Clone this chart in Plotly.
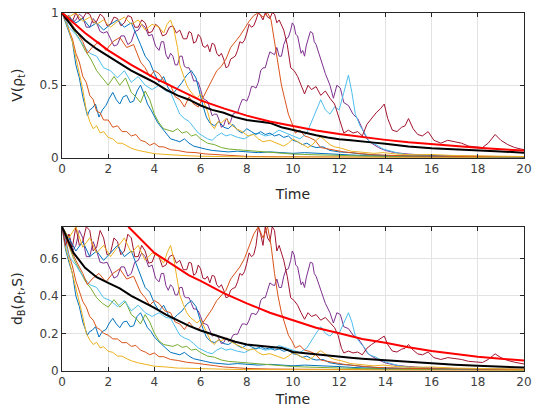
import plotly.graph_objects as go

# ---------------- data ----------------
x_ticks = [0, 2, 4, 6, 8, 10, 12, 14, 16, 18, 20]
v_ticks = [0, 0.5, 1]
v_tick_text = ["0", "0.5", "1"]
d_ticks = [0, 0.2, 0.4, 0.6]
d_tick_text = ["0", "0.2", "0.4", "0.6"]

# trajectory 1 (blue)
t_blue1 = [0, .15, .3, .45, .6, .75, .9, 1.0, 1.1, 1.2, 1.3, 1.45, 1.6, 1.75, 1.9, 2.05, 2.2, 2.35, 2.5, 2.65,
           2.8, 2.95, 3.1, 3.25, 3.4, 3.55, 3.7, 3.85, 4.0, 4.15, 4.3, 4.5, 4.7, 4.9, 5.1, 5.3, 5.5, 5.7, 5.9, 6.2,
           6.5, 6.8, 7.2, 7.6, 8, 8.5, 9, 9.5, 10, 10.5, 11, 11.5, 12, 12.5, 13, 14, 16, 20]
v_blue1 = [1, .93, .87, .8, .64, .55, .42, .35, .29, .33, .34, .37, .28, .33, .36, .41, .45, .4, .37, .42,
           .43, .38, .39, .46, .5, .44, .37, .33, .28, .24, .21, .17, .13, .12, .11, .13, .1, .08, .07, .06,
           .05, .045, .04, .045, .04, .035, .04, .035, .03, .035, .03, .028, .025, .02, .015, .01, .006, .004]
d_blue1 = [.77, .65, .58, .52, .40, .343, .26, .22, .19, .21, .215, .235, .18, .21, .22, .255, .28, .25, .23, .26,
           .265, .235, .24, .29, .31, .27, .23, .21, .18, .16, .145, .12, .098, .091, .085, .098, .078, .064, .057, .05,
           .042, .038, .034, .038, .034, .03, .034, .03, .026, .03, .026, .025, .022, .018, .014, .01, .007, .005]

# trajectory 2 (orange, fast)
t_orange1 = [0, .15, .3, .45, .6, .75, .9, 1.05, 1.2, 1.35, 1.5, 1.65, 1.8, 2.0, 2.2, 2.4, 2.6, 2.8, 3.0, 3.2,
             3.4, 3.6, 3.8, 4.0, 4.2, 4.4, 4.7, 5.0, 5.4, 5.8, 6.2, 6.6, 7.0, 7.5, 8, 9, 10, 12, 15, 20]
v_orange1 = [1, .97, .88, .82, .72, .66, .56, .52, .43, .4, .32, .31, .26, .26, .21, .22, .18, .18, .15, .16,
             .12, .11, .085, .1, .075, .075, .055, .05, .038, .035, .026, .022, .016, .013, .009, .007, .006, .004, .003, .002]
d_orange1 = [.77, .71, .62, .56, .48, .43, .37, .34, .29, .27, .23, .22, .2, .19, .17, .17, .15, .15, .13, .135,
             .11, .1, .085, .095, .075, .075, .06, .055, .045, .04, .032, .027, .02, .016, .012, .009, .008, .006, .004, .003]

# trajectory 3 (yellow, fastest)
t_yellow1 = [0, .15, .3, .45, .6, .75, .9, 1.05, 1.2, 1.35, 1.5, 1.65, 1.8, 2.0, 2.2, 2.4, 2.6, 2.8, 3.0, 3.3,
             3.6, 4.0, 4.5, 5.0, 5.5, 6, 7, 8, 10, 13, 20]
v_yellow1 = [1, .94, .88, .8, .7, .58, .47, .33, .25, .2, .22, .17, .18, .14, .13, .1, .1, .08, .065, .05,
             .04, .028, .022, .015, .013, .01, .007, .005, .004, .003, .002]
d_yellow1 = [.77, .66, .595, .52, .445, .36, .29, .2, .165, .14, .152, .122, .128, .104, .098, .078, .078, .064, .053, .042,
             .034, .024, .02, .014, .013, .01, .008, .006, .005, .004, .003]

# trajectory 4 (purple)
t_purple = [0, .15, .3, .45, .6, .75, .9, 1.05, 1.2, 1.35, 1.5, 1.65, 1.8, 1.95, 2.1, 2.25, 2.4, 2.55, 2.7, 2.85,
            3.0, 3.15, 3.3, 3.45, 3.6, 3.75, 3.9, 4.05, 4.2, 4.3, 4.4, 4.5, 4.6, 4.7, 4.8, 4.9, 5.0, 5.1, 5.2, 5.3,
            5.4, 5.5, 5.6, 5.7, 5.8, 5.9, 6.0, 6.1, 6.2, 6.3, 6.4, 6.5, 6.6, 6.7, 6.8, 6.9, 7.0, 7.08, 7.15, 7.22,
            7.3, 7.4, 7.5, 7.6, 7.7, 7.8, 7.9, 8.0, 8.1, 8.2, 8.3, 8.4, 8.5, 8.6, 8.7, 8.8, 8.9, 9.0, 9.1, 9.2,
            9.3, 9.4, 9.5, 9.6, 9.7, 9.8, 9.9, 9.97, 10.05, 10.12, 10.2, 10.27, 10.35, 10.42, 10.5, 10.57, 10.65, 10.75, 10.85, 10.92,
            11.0, 11.2, 11.4, 11.6, 11.75, 11.9, 12.05, 12.2, 12.4, 12.6, 12.8, 13.0, 13.2, 13.4, 13.7, 14.0, 14.4, 15, 16, 18,
            20]
v_purple = [1, .96, .98, .93, .95, .99, .97, .9, .9, .96, .93, .87, .86, .87, .82, .77, .78, .84, .84, .78,
            .8, .87, .88, .92, .9, .84, .85, .77, .74, .8, .8, .71, .68, .72, .7, .64, .64, .7, .7, .63,
            .62, .62, .58, .53, .53, .52, .47, .41, .4, .39, .34, .29, .3, .3, .26, .21, .22, .26, .27, .23,
            .25, .3, .31, .31, .36, .4, .4, .39, .43, .49, .49, .48, .52, .6, .62, .62, .68, .73, .72, .71,
            .76, .7, .7, .78, .82, .83, .88, .93, .91, .85, .84, .79, .72, .74, .7, .77, .82, .87, .86, .8,
            .78, .68, .58, .5, .41, .5, .48, .38, .36, .3, .27, .2, .13, .1, .07, .05, .035, .025, .015, .01,
            .006]
d_purple = [.77, .69, .73, .64, .67, .75, .71, .61, .61, .69, .64, .58, .575, .58, .54, .495, .505, .555, .555, .505,
            .52, .58, .59, .63, .61, .555, .565, .495, .475, .52, .52, .455, .43, .46, .445, .405, .405, .445, .445, .395,
            .39, .39, .36, .33, .33, .32, .29, .255, .25, .245, .215, .185, .19, .19, .17, .145, .15, .17, .175, .155,
            .165, .19, .195, .195, .225, .25, .25, .245, .27, .305, .305, .3, .32, .375, .39, .39, .43, .47, .46, .455,
            .49, .445, .445, .505, .54, .545, .59, .64, .62, .565, .555, .51, .46, .475, .445, .495, .54, .58, .575, .52,
            .505, .43, .36, .31, .255, .31, .3, .235, .225, .19, .175, .14, .097, .078, .057, .042, .03, .022, .014, .01,
            .007]

# trajectory 5 (green)
t_green = [0, .25, .5, .75, 1.0, 1.25, 1.5, 1.75, 2.0, 2.25, 2.5, 2.75, 3.0, 3.2, 3.4, 3.6, 3.8, 4.0, 4.2, 4.4,
           4.6, 4.8, 5.0, 5.2, 5.4, 5.6, 5.8, 6.0, 6.3, 6.6, 6.9, 7.2, 7.6, 8, 8.5, 9, 9.5, 10, 11, 12, 13, 15, 20]
v_green = [1, .95, .88, .82, .74, .68, .6, .55, .5, .56, .5, .55, .45, .42, .38, .46, .4, .3, .24, .2,
           .19, .18, .2, .17, .18, .15, .16, .13, .1, .09, .07, .06, .055, .05, .045, .035, .03, .025, .02, .015, .012, .008, .004]
d_green = [.77, .68, .6, .54, .48, .44, .39, .36, .34, .38, .34, .37, .3, .28, .25, .3, .26, .2, .16, .14,
           .135, .13, .14, .125, .13, .11, .115, .097, .078, .072, .057, .05, .046, .042, .038, .03, .026, .022, .018, .014, .011, .008, .004]

# trajectory 6 (light blue)
t_lblue = [0, .3, .6, .9, 1.2, 1.5, 1.8, 2.1, 2.4, 2.7, 3.0, 3.3, 3.6, 3.9, 4.2, 4.5, 4.7, 4.9, 5.1, 5.3,
           5.5, 5.7, 5.9, 6.1, 6.3, 6.5, 6.7, 6.9, 7.1, 7.3, 7.6, 7.9, 8.2, 8.5, 8.8, 9.1, 9.4, 9.7, 10.0, 10.3,
           10.6, 10.8, 11.0, 11.2, 11.4, 11.6, 11.8, 12.0, 12.2, 12.4, 12.55, 12.7, 12.9, 13.1, 13.3, 13.6, 13.9, 14.2, 14.6, 15,
           16, 18, 20]
v_lblue = [1, .9, .85, .78, .72, .7, .62, .6, .55, .6, .52, .56, .5, .47, .5, .46, .45, .38, .3, .27,
           .25, .21, .17, .15, .13, .12, .15, .17, .15, .16, .14, .13, .16, .17, .15, .16, .19, .17, .15, .13,
           .17, .25, .33, .4, .33, .3, .35, .33, .45, .57, .45, .3, .22, .17, .11, .09, .06, .045, .03, .02,
           .012, .008, .005]
d_lblue = [.77, .61, .565, .505, .46, .445, .39, .375, .343, .375, .32, .35, .31, .29, .31, .285, .28, .235, .19, .175,
           .165, .145, .122, .11, .097, .091, .11, .122, .11, .116, .104, .097, .116, .122, .11, .116, .134, .122, .11, .097,
           .122, .165, .2, .235, .2, .185, .21, .2, .26, .31, .26, .185, .15, .122, .085, .072, .05, .038, .026, .018,
           .012, .008, .006]

# trajectory 7 (dark red)
t_dred = [0, .15, .3, .45, .6, .75, .9, 1.05, 1.2, 1.35, 1.5, 1.65, 1.8, 1.95, 2.1, 2.25, 2.4, 2.55, 2.7, 2.85,
          3.0, 3.15, 3.3, 3.45, 3.6, 3.75, 3.9, 4.05, 4.2, 4.35, 4.5, 4.65, 4.8, 4.95, 5.1, 5.25, 5.4, 5.5, 5.6, 5.7,
          5.8, 5.9, 6.0, 6.1, 6.2, 6.3, 6.4, 6.5, 6.6, 6.7, 6.8, 6.9, 7.0, 7.1, 7.2, 7.3, 7.4, 7.5, 7.6, 7.7,
          7.8, 7.9, 8.0, 8.1, 8.2, 8.3, 8.4, 8.5, 8.6, 8.7, 8.8, 8.9, 9.0, 9.1, 9.2, 9.3, 9.4, 9.5, 9.6,
          9.75, 9.9, 10.05, 10.2, 10.35, 10.5, 10.65, 10.8, 11.0, 11.2, 11.4, 11.6, 11.8, 11.95, 12.1, 12.2, 12.4, 12.6, 12.8, 13.0,
          13.2, 13.4, 13.6, 13.8, 13.95, 14.1, 14.3, 14.5, 14.7, 14.85, 15.0, 15.2, 15.4, 15.6, 15.85, 16.1, 16.4, 16.7, 17.0, 17.3,
          17.6, 17.9, 18.2, 18.45, 18.75, 19.0, 19.3, 19.6, 20]
v_dred = [1, .95, .98, .94, 1, .95, .96, 1.0, .99, .93, .94, .99, .97, .91, .92, .97, .96, .91, .93, .98,
          .97, .9, .9, .95, .93, .86, .87, .92, .9, .84, .85, .9, .91, .86, .88, .82, .82, .87, .86, .79,
          .8, .85, .83, .77, .76, .78, .73, .79, .78, .72, .7, .72, .68, .62, .63, .68, .69, .7, .74, .8,
          .79, .81, .86, .92, .9, .91, .95, 1.0, .98, .95, 1.0, .97, .96, 1.0, .99, .93, .95, .92, .88,
          .78, .62, .6, .56, .5, .44, .5, .47, .49, .43, .46, .41, .37, .3, .22, .17, .19, .17, .18, .15,
          .23, .27, .31, .34, .37, .27, .19, .18, .21, .22, .27, .2, .16, .15, .18, .12, .1, .12, .11, .1,
          .08, .075, .07, .1, .16, .12, .09, .07, .055]
d_dred = [.77, .67, .73, .66, .77, .67, .69, .77, .75, .64, .66, .75, .71, .62, .63, .71, .69, .62, .64, .73,
          .71, .61, .61, .67, .64, .575, .58, .63, .61, .555, .565, .61, .62, .575, .59, .54, .54, .58, .575, .51,
          .52, .565, .545, .495, .49, .505, .47, .51, .505, .46, .445, .46, .43, .39, .395, .43, .44, .445, .475, .52,
          .51, .53, .575, .63, .61, .62, .67, .77, .73, .67, .77, .71, .69, .77, .75, .64, .67, .63, .59,
          .505, .39, .375, .35, .31, .275, .31, .29, .3, .27, .285, .255, .23, .19, .12, .095, .105, .095, .1, .085,
          .12, .14, .155, .17, .185, .14, .105, .1, .115, .12, .14, .11, .09, .085, .1, .07, .06, .07, .066, .06,
          .05, .047, .044, .06, .09, .07, .055, .045, .036]

# trajectory 8 (blue)
t_blue2 = [0, .3, .6, .9, 1.2, 1.5, 1.8, 2.1, 2.4, 2.7, 3.0, 3.2, 3.4, 3.6, 3.8, 4.0, 4.2, 4.4, 4.6, 4.8,
           5.0, 5.2, 5.4, 5.6, 5.8, 5.95, 6.1, 6.25, 6.4, 6.6, 6.8, 7.0, 7.2, 7.4, 7.6, 7.8, 8.0, 8.2, 8.4, 8.6,
           8.8, 9.0, 9.2, 9.4, 9.6, 9.8, 10.0, 10.2, 10.4, 10.6, 10.8, 11.0, 11.3, 11.6, 12.0, 12.5, 13, 14, 16, 20]
v_blue2 = [1, .97, .93, .96, .9, .93, .88, .92, .95, .9, .93, .86, .78, .7, .66, .58, .52, .56, .48, .44,
           .48, .52, .57, .6, .55, .45, .36, .28, .24, .22, .25, .21, .2, .23, .19, .17, .2, .18, .16, .18,
           .16, .17, .15, .16, .14, .15, .12, .11, .09, .1, .08, .07, .075, .05, .04, .035, .025, .015, .01, .005]
d_blue2 = [.77, .71, .64, .69, .61, .64, .59, .63, .67, .61, .64, .575, .505, .445, .42, .36, .32, .35, .3, .275,
           .3, .32, .355, .375, .343, .28, .225, .18, .16, .15, .165, .145, .14, .155, .134, .122, .14, .128, .116, .128,
           .116, .122, .11, .116, .104, .11, .091, .085, .071, .078, .064, .057, .06, .042, .034, .03, .022, .014, .01, .006]

# trajectory 9 (orange)
t_orange2 = [0, .3, .6, .9, 1.1, 1.3, 1.6, 1.9, 2.2, 2.5, 2.8, 3.1, 3.4, 3.6, 3.8, 4.0, 4.2, 4.45, 4.7, 4.9,
             5.1, 5.3, 5.5, 5.7, 5.9, 6.1, 6.3, 6.5, 6.7, 6.9, 7.1, 7.3, 7.5, 7.7, 7.9, 8.1, 8.3, 8.5, 8.7, 8.9,
             9.05, 9.2, 9.35, 9.5, 9.65, 9.8, 9.95, 10.1, 10.3, 10.5, 10.7, 10.95, 11.2, 11.5, 11.8, 12.2, 12.8, 13.5, 15, 17, 20]
v_orange2 = [1, .95, .88, .8, .72, .76, .8, .74, .8, .83, .76, .78, .66, .62, .56, .6, .58, .52, .5, .42,
             .4, .35, .42, .37, .35, .41, .47, .53, .6, .63, .68, .76, .8, .84, .89, .94, .98, 1, .97, 1,
             .95, .8, .63, .5, .4, .3, .24, .17, .19, .15, .14, .12, .07, .06, .05, .04, .03, .02, .012, .008, .005]
d_orange2 = [.77, .67, .59, .52, .46, .49, .52, .475, .52, .545, .49, .505, .42, .39, .35, .375, .36, .32, .31, .26,
             .25, .22, .26, .23, .22, .255, .29, .33, .375, .4, .43, .49, .52, .555, .6, .66, .73, .77, .71, .77,
             .67, .52, .4, .31, .25, .19, .16, .122, .134, .11, .104, .091, .057, .05, .042, .034, .026, .018, .012, .008, .006]

# trajectory 10 (yellow)
t_yellow2 = [0, .3, .6, .9, 1.2, 1.5, 1.8, 2.1, 2.4, 2.7, 3.0, 3.3, 3.6, 3.9, 4.2, 4.4, 4.55, 4.7, 4.85, 5.0,
             5.1, 5.25, 5.4, 5.55, 5.7, 5.85, 6.0, 6.15, 6.3, 6.45, 6.6, 6.75, 6.9, 7.1, 7.3, 7.55, 7.8, 8.05, 8.3, 8.5,
             8.7, 9.0, 9.3, 9.6, 9.8, 10.0, 10.2, 10.45, 10.65, 10.85, 11.0, 11.2, 11.4, 11.6, 11.8, 12.1, 12.5, 13.0, 13.5, 13.9,
             14.5, 15.2, 16, 17, 18, 19, 20]
v_yellow2 = [1, .97, 1, .94, .97, .92, .95, .9, .94, .97, .92, .95, .88, .92, .9, .86, .92, .95, .88, .76,
             .64, .57, .5, .46, .43, .41, .44, .38, .32, .23, .2, .25, .24, .27, .23, .2, .18, .15, .16, .13,
             .11, .12, .1, .08, .1, .13, .11, .09, .07, .09, .12, .145, .12, .09, .075, .065, .045, .035, .03, .035,
             .025, .02, .022, .015, .012, .01, .008]
d_yellow2 = [.77, .71, .77, .66, .71, .63, .67, .61, .66, .71, .63, .67, .59, .63, .61, .575, .63, .67, .59, .49,
             .405, .355, .31, .285, .27, .255, .275, .235, .2, .155, .14, .165, .16, .175, .155, .14, .128, .11, .116, .097,
             .085, .091, .078, .064, .078, .097, .085, .071, .057, .071, .091, .107, .091, .071, .06, .053, .038, .03, .026, .03,
             .022, .018, .02, .014, .012, .01, .008]

# mean over trajectories (black)
t_mean = [0, .5, 1, 1.5, 2, 2.5, 3, 3.5, 4, 4.5, 5, 5.5, 6, 6.5, 7, 7.5, 8, 8.5, 9, 9.5,
          10, 10.5, 11, 11.5, 12, 12.5, 13, 13.5, 14, 15, 16, 17, 18, 19, 20]
v_mean = [1, .89, .81, .75, .7, .65, .6, .56, .52, .47, .43, .4, .36, .33, .31, .28, .26, .25, .24, .21,
          .19, .17, .155, .14, .127, .12, .11, .104, .097, .078, .065, .056, .05, .043, .035]
d_mean = [.77, .63, .55, .5, .47, .44, .4, .37, .336, .3, .27, .24, .215, .195, .175, .155, .14, .135, .13, .122,
          .1, .093, .087, .08, .074, .069, .064, .06, .055, .045, .037, .032, .026, .022, .017]

# bound (red)
t_bound_v = [0, 1, 2, 3, 4, 5, 6, 7, 8, 9, 10, 11, 12, 13, 14, 15, 16, 17, 18, 19, 20]
v_bound = [1, .86, .74, .64, .55, .47, .395, .34, .29, .25, .218, .188, .163, .142, .123, .106, .092, .079, .068, .058, .05]
t_bound_d = [2.87, 3.5, 4, 4.5, 5, 5.5, 6, 7, 8, 9, 10, 11, 12, 13, 14, 15, 16, 17, 18, 19, 20]
d_bound = [.77, .69, .63, .59, .55, .51, .48, .415, .36, .31, .27, .23, .2, .17, .15, .125, .105, .09, .075, .064, .055]

# ---------------- figure ----------------
COL = {"blue": "#0072BD", "orange": "#D95319", "yellow": "#EDB120", "purple": "#7E2F8E",
       "green": "#77AC30", "lblue": "#4DBEEE", "dred": "#A2142F"}

paths = [
    (t_blue1, v_blue1, d_blue1, COL["blue"]),
    (t_orange1, v_orange1, d_orange1, COL["orange"]),
    (t_yellow1, v_yellow1, d_yellow1, COL["yellow"]),
    (t_purple, v_purple, d_purple, COL["purple"]),
    (t_green, v_green, d_green, COL["green"]),
    (t_lblue, v_lblue, d_lblue, COL["lblue"]),
    (t_dred, v_dred, d_dred, COL["dred"]),
    (t_blue2, v_blue2, d_blue2, COL["blue"]),
    (t_orange2, v_orange2, d_orange2, COL["orange"]),
    (t_yellow2, v_yellow2, d_yellow2, COL["yellow"]),
]

fig = go.Figure()
for t, v, d, c in paths:
    fig.add_trace(go.Scatter(x=t, y=v, mode="lines", line=dict(color=c, width=1.0),
                             xaxis="x", yaxis="y", hoverinfo="skip", showlegend=False))
    fig.add_trace(go.Scatter(x=t, y=d, mode="lines", line=dict(color=c, width=1.0),
                             xaxis="x2", yaxis="y2", hoverinfo="skip", showlegend=False))

fig.add_trace(go.Scatter(x=t_mean, y=v_mean, mode="lines", line=dict(color="black", width=2),
                         xaxis="x", yaxis="y", showlegend=False))
fig.add_trace(go.Scatter(x=t_bound_v, y=v_bound, mode="lines", line=dict(color="#FF0000", width=2),
                         xaxis="x", yaxis="y", showlegend=False))
fig.add_trace(go.Scatter(x=t_mean, y=d_mean, mode="lines", line=dict(color="black", width=2),
                         xaxis="x2", yaxis="y2", showlegend=False))
fig.add_trace(go.Scatter(x=t_bound_d, y=d_bound, mode="lines", line=dict(color="#FF0000", width=2),
                         xaxis="x2", yaxis="y2", showlegend=False))

tick_font = dict(family="DejaVu Sans", size=12, color="#404040")
title_font = dict(family="DejaVu Sans", size=14, color="#262626")
common = dict(showline=True, linecolor="#262626", linewidth=1, mirror="ticks", ticks="inside",
              ticklen=4, tickcolor="#262626", showgrid=True, gridcolor="#e3e3e3", gridwidth=1,
              zeroline=False, tickfont=tick_font, automargin=False, ticklabeloverflow="allow")

# page body margin is removed (post_script), so figure pixels equal page pixels
W, H = 535, 414
xdom = [62 / W, 524 / W]
fig.update_layout(
    width=W, height=H,
    margin=dict(l=0, r=0, t=0, b=0),
    paper_bgcolor="white", plot_bgcolor="white",
    showlegend=False,
    xaxis=dict(domain=xdom, range=[0, 20], tickvals=x_ticks, anchor="y",
               title=dict(text="Time", font=title_font, standoff=14), **common),
    yaxis=dict(domain=[1 - 157.7 / H, 1 - 12.7 / H], range=[0, 1], tickvals=v_ticks,
               ticktext=v_tick_text, anchor="x",
               title=dict(text="V(ρ<sub>t</sub>)", font=title_font, standoff=13), **common),
    xaxis2=dict(domain=xdom, range=[0, 20], tickvals=x_ticks, anchor="y2",
                title=dict(text="Time", font=title_font, standoff=6), **common),
    yaxis2=dict(domain=[1 - 370.7 / H, 1 - 226.7 / H], range=[0, 0.77], tickvals=d_ticks,
                ticktext=d_tick_text, anchor="x2",
                title=dict(text="d<sub>B</sub>(ρ<sub>t</sub>,S)", font=title_font, standoff=13), **common),
)

fig.write_html("out.html", config={"displayModeBar": False},
               post_script="document.body.style.margin='0';document.body.style.overflow='hidden';")
